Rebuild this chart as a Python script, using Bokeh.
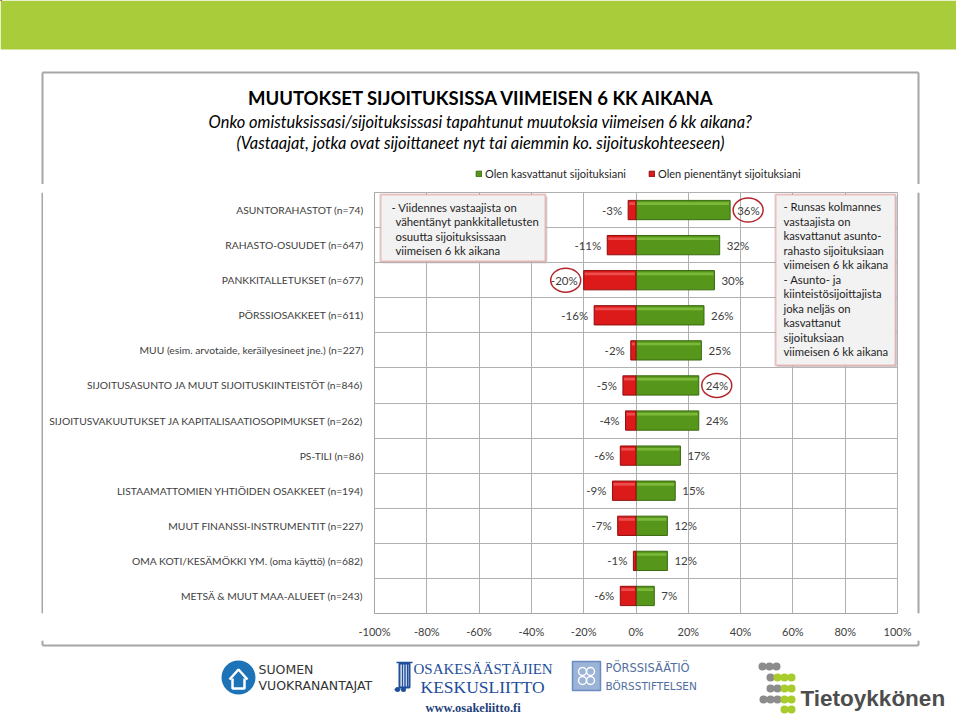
from bokeh.plotting import figure
from bokeh.models import (Label, BoxAnnotation, FixedTicker, NumeralTickFormatter,
                          Legend, LegendItem, Range1d)
from bokeh.layouts import column, row
from bokeh.core.properties import value
from bokeh.embed import file_html
from bokeh.resources import INLINE

# ---------------- data ----------------
categories = [
    "ASUNTORAHASTOT (n=74)",
    "RAHASTO-OSUUDET (n=647)",
    "PANKKITALLETUKSET (n=677)",
    "PÖRSSIOSAKKEET (n=611)",
    "MUU (esim. arvotaide, keräilyesineet jne.) (n=227)",
    "SIJOITUSASUNTO JA MUUT SIJOITUSKIINTEISTÖT (n=846)",
    "SIJOITUSVAKUUTUKSET JA KAPITALISAATIOSOPIMUKSET (n=262)",
    "PS-TILI (n=86)",
    "LISTAAMATTOMIEN YHTIÖIDEN OSAKKEET (n=194)",
    "MUUT FINANSSI-INSTRUMENTIT (n=227)",
    "OMA KOTI/KESÄMÖKKI YM. (oma käyttö) (n=682)",
    "METSÄ & MUUT MAA-ALUEET (n=243)",
]
increased = [36, 32, 30, 26, 25, 24, 24, 17, 15, 12, 12, 7]   # %
decreased = [3, 11, 20, 16, 2, 5, 4, 6, 9, 7, 1, 6]          # %
x_ticks = [-1.0, -0.8, -0.6, -0.4, -0.2, 0.0, 0.2, 0.4, 0.6, 0.8, 1.0]
series_names = ["Olen kasvattanut sijoituksiani", "Olen pienentänyt sijoituksiani"]
highlighted = [0, 2, 5]  # circled labels: 36 %, -20 %, 24 %

title = "MUUTOKSET SIJOITUKSISSA VIIMEISEN 6 KK AIKANA"
subtitle1 = "Onko omistuksissasi/sijoituksissasi tapahtunut muutoksia viimeisen 6 kk aikana?"
subtitle2 = "(Vastaajat, jotka ovat sijoittaneet nyt tai aiemmin ko. sijoituskohteeseen)"
note_left = ["- Viidennes vastaajista on", "vähentänyt pankkitalletusten",
             "osuutta sijoituksissaan", "viimeisen 6 kk aikana"]
note_right = ["- Runsas kolmannes", "vastaajista on", "kasvattanut asunto-",
              "rahasto sijoituksiaan", "viimeisen 6 kk aikana", "- Asunto- ja",
              "kiinteistösijoittajista", "joka neljäs on", "kasvattanut",
              "sijoituksiaan", "viimeisen 6 kk aikana"]

# ---------------- layout constants (page pixels) ----------------
PW = 956                      # page width used
HDR_H = 184                   # header band: 0..184
MID_Y0, MID_Y1 = 184, 640     # chart band
FTR_Y1 = 716                  # footer band: 640..716
LS_W = 43                     # left strip width
RS_X0 = 916                   # right strip start
FL, FR, FT, FB = 374, 897, 192, 615   # plot frame
BL, BR, BT, BB = 42, 918, 72, 645     # chart box border

FONT = "Lato"
TXT = "#404040"
BORDER = "#a6a6a6"
GREEN, GREEN_D, GREEN_L = "#56961b", "#3a6a10", "#86c244"
RED, RED_D, RED_L = "#dc1a1a", "#8e0e0e", "#f25a5a"


def deco_fig(x0, x1, y0, y1):
    """A figure whose frame is its whole canvas, in page pixel coordinates."""
    f = figure(width=x1 - x0, height=y1 - y0, output_backend="svg",
               toolbar_location=None, x_range=Range1d(x0, x1), y_range=Range1d(y1, y0),
               x_axis_location=None, y_axis_location=None, min_border=0)
    f.grid.visible = False
    f.outline_line_color = None
    f.background_fill_color = "white"
    f.border_fill_color = "white"
    return f


# ================= header =================
hdr = deco_fig(0, PW, 0, HDR_H)
hdr.quad(left=[0], right=[PW], top=[0], bottom=[49], fill_color="#a9cc3b", line_color=None)
hdr.segment(x0=[BL, BL, BR], y0=[BT, BT, BT], x1=[BR, BL, BR], y1=[BT, HDR_H, HDR_H],
            line_color=BORDER, line_width=2)
hdr.text(x=[481], y=[97], text=[title], text_align="center", text_baseline="middle",
         text_font=value(FONT), text_font_style="bold", text_font_size="18.5px",
         text_color="#000000")
hdr.text(x=[480, 480], y=[121, 142], text=[subtitle1, subtitle2], text_align="center",
         text_baseline="middle", text_font=value(FONT), text_font_style="italic",
         text_font_size="16.4px", text_color="#000000")
# legend swatches use off-view dummy renderers with the bar styles
lg_g = hdr.hbar(y=[-500], left=[0], right=[1], height=1, fill_color=GREEN, line_color=GREEN_D)
lg_r = hdr.hbar(y=[-500], left=[0], right=[1], height=1, fill_color=RED, line_color=RED_D)
legend = Legend(items=[LegendItem(label=series_names[0], renderers=[lg_g]),
                       LegendItem(label=series_names[1], renderers=[lg_r])],
                orientation="horizontal", location=(475, 4),
                glyph_width=7, glyph_height=7, label_height=9,
                label_text_font=FONT, label_text_font_size="11px",
                label_text_color="#262626", label_standoff=3, spacing=22,
                padding=0, margin=0, border_line_color=None,
                background_fill_alpha=0)
hdr.add_layout(legend)

# ================= side strips =================
lstrip = deco_fig(0, LS_W, MID_Y0, MID_Y1)
lstrip.segment(x0=[BL], y0=[MID_Y0], x1=[BL], y1=[MID_Y1], line_color=BORDER, line_width=2)
rstrip = deco_fig(RS_X0, PW, MID_Y0, MID_Y1)
rstrip.segment(x0=[BR], y0=[MID_Y0], x1=[BR], y1=[MID_Y1], line_color=BORDER, line_width=2)

# ================= main chart =================
n = len(categories)
ypos = [n - i for i in range(n)]
inc = [v / 100 for v in increased]
dec = [-v / 100 for v in decreased]

p = figure(width=RS_X0 - LS_W, height=MID_Y1 - MID_Y0, output_backend="svg",
           toolbar_location=None, x_range=Range1d(-1, 1), y_range=Range1d(0.5, n + 0.5),
           min_border_left=FL - LS_W, min_border_right=RS_X0 - FR,
           min_border_top=FT - MID_Y0, min_border_bottom=MID_Y1 - FB)
p.background_fill_color = "white"
p.border_fill_color = "white"
p.outline_line_color = "#b0b0b0"

p.xgrid.ticker = FixedTicker(ticks=x_ticks)
p.xgrid.grid_line_color = "#b0b0b0"
p.ygrid.ticker = FixedTicker(ticks=[k + 0.5 for k in range(n + 1)])
p.ygrid.grid_line_color = "#b0b0b0"

p.xaxis.ticker = FixedTicker(ticks=x_ticks)
p.xaxis.formatter = NumeralTickFormatter(format="0%")
p.yaxis.ticker = FixedTicker(ticks=ypos)
p.yaxis.major_label_overrides = {y: c for y, c in zip(ypos, categories)}
for ax in (p.xaxis[0], p.yaxis[0]):
    ax.axis_line_color = BORDER
    ax.major_tick_line_color = None
    ax.minor_tick_line_color = None
    ax.major_tick_out = 0
    ax.major_tick_in = 0
    ax.minor_tick_out = 0
    ax.minor_tick_in = 0
    ax.major_label_text_font = FONT
    ax.major_label_text_color = TXT
p.xaxis.major_label_text_font_size = "11px"
p.xaxis.major_label_standoff = 11
p.yaxis.major_label_text_font_size = "10.3px"
p.yaxis.major_label_standoff = 11

BH = 0.55
g = p.hbar(y=ypos, left=0, right=inc, height=BH, fill_color=GREEN,
           line_color=GREEN_D, line_width=1)
r = p.hbar(y=ypos, left=dec, right=0, height=BH, fill_color=RED,
           line_color=RED_D, line_width=1)
p.hbar(y=[y + BH * 0.33 for y in ypos], left=0.004, right=[v - 0.004 for v in inc],
       height=BH * 0.14, fill_color=GREEN_L, fill_alpha=0.8, line_color=None)
p.hbar(y=[y + BH * 0.33 for y in ypos], left=[v + 0.004 for v in dec], right=-0.004,
       height=BH * 0.14, fill_color=RED_L, fill_alpha=0.8, line_color=None)

p.text(x=inc, y=ypos, text=[f"{v}%" for v in increased], x_offset=7,
       text_align="left", text_baseline="middle", text_font=value(FONT),
       text_font_size="11.5px", text_color=TXT)
p.text(x=dec, y=ypos, text=[f"-{v}%" for v in decreased], x_offset=-6,
       text_align="right", text_baseline="middle", text_font=value(FONT),
       text_font_size="11.5px", text_color=TXT)

px2d = 2.0 / (FR - FL)
ex, ey = [], []
for i in highlighted:
    ex.append(dec[i] - 18 * px2d if i == 2 else inc[i] + 18 * px2d)
    ey.append(ypos[i])
p.ellipse(x=ex, y=ey, width=30, height=24, width_units="screen", height_units="screen",
          fill_color=None, line_color="#b3262c", line_width=1.5)


def sx(px):
    return px - FL


def sy(py):
    return FB - py


def note_box(l, t, rr, b):
    p.add_layout(BoxAnnotation(left=sx(l + 2), right=sx(rr + 2), top=sy(t + 2),
                               bottom=sy(b + 2),
                               left_units="screen", right_units="screen",
                               top_units="screen", bottom_units="screen",
                               fill_color="#c8c8c8", fill_alpha=0.6, line_color=None))
    p.add_layout(BoxAnnotation(left=sx(l), right=sx(rr), top=sy(t), bottom=sy(b),
                               left_units="screen", right_units="screen",
                               top_units="screen", bottom_units="screen",
                               fill_color="#f2f2f2", fill_alpha=1.0,
                               line_color="#c0474a", line_width=2))


def note_text(px, py, text):
    p.add_layout(Label(x=sx(px), y=sy(py), x_units="screen", y_units="screen",
                       text=text, text_font=FONT, text_font_size="11.3px",
                       text_color="#1e1e1e", text_align="left", text_baseline="middle"))


note_box(380, 196, 545, 263)
for k, t in enumerate(note_left):
    note_text(391 if k == 0 else 395, 209 + 14.4 * k, t)
note_box(775, 196, 895, 367)
for k, t in enumerate(note_right):
    note_text(783, 208 + 14.5 * k, t)

# ================= footer =================
ftr = deco_fig(0, PW, MID_Y1, FTR_Y1)
ftr.segment(x0=[BL, BL, BR], y0=[BB, MID_Y1, MID_Y1], x1=[BR, BL, BR], y1=[BB, BB, BB],
            line_color=BORDER, line_width=2)
# Suomen Vuokranantajat
ftr.scatter(x=[238], y=[677], size=34, marker="circle", fill_color="#1d73b8", line_color=None)
ftr.line(x=[229, 238, 247], y=[679, 669, 679], line_color="white", line_width=2.5)
ftr.line(x=[232, 232, 244, 244], y=[678, 688, 688, 678], line_color="white", line_width=2.5)
ftr.text(x=[258, 258], y=[669, 685], text=["SUOMEN", "VUOKRANANTAJAT"],
         text_baseline="middle", text_font=value("DejaVu Sans"), text_font_size="12.5px",
         text_color="#333333")
# Osakesäästäjien Keskusliitto
ftr.quad(left=[399], right=[409], top=[663], bottom=[687], fill_color=None,
         line_color="#1f4e9a", line_width=2)
ftr.segment(x0=[396, 402, 404.5, 407, 394], y0=[662, 663, 663, 663, 689],
            x1=[412, 402, 404.5, 407, 400], y1=[662, 687, 687, 687, 689],
            line_color="#1f4e9a", line_width=1.5)
ftr.scatter(x=[397, 403], y=[689, 689], size=5, marker="circle",
            fill_color="#1f4e9a", line_color=None)
ftr.text(x=[413], y=[668], text=["OSAKESÄÄSTÄJIEN"], text_baseline="middle",
         text_font=value("Liberation Serif"), text_font_size="15px", text_color="#1f4e9a")
ftr.text(x=[420], y=[686], text=["KESKUSLIITTO"], text_baseline="middle",
         text_font=value("Liberation Serif"), text_font_size="17.5px", text_color="#1f4e9a")
ftr.text(x=[425], y=[707], text=["www.osakeliitto.fi"], text_baseline="middle",
         text_font=value("Liberation Serif"), text_font_style="bold",
         text_font_size="12.5px", text_color="#1f3f7a")
# Pörssisäätiö
ftr.quad(left=[572], right=[600], top=[661], bottom=[690], fill_color="#9bb3d6",
         line_color="#6a8cc0", line_width=1.5)
ftr.scatter(x=[582, 590, 582, 590], y=[671, 671, 680, 680], size=8, marker="circle",
            fill_color=None, line_color="white", line_width=1.5)
ftr.text(x=[605], y=[667], text=["PÖRSSISÄÄTIÖ"], text_baseline="middle",
         text_font=value("DejaVu Sans"), text_font_size="11.5px", text_color="#506e9e")
ftr.text(x=[605], y=[685], text=["BÖRSSTIFTELSEN"], text_baseline="middle",
         text_font=value("DejaVu Sans"), text_font_size="10.5px", text_color="#506e9e")
# Tietoykkönen
dots_gray_x = [762, 769, 776, 770, 770, 777, 763, 770, 777]
dots_gray_y = [666, 666, 666, 677, 688, 688, 699, 699, 699]
dots_green_x = [777, 784, 791, 784, 791, 784, 791, 784, 791]
dots_green_y = [677, 677, 677, 688, 688, 699, 699, 709, 709]
ftr.scatter(x=dots_gray_x, y=dots_gray_y, size=8, marker="circle",
            fill_color="#8c8c8c", line_color=None)
ftr.scatter(x=dots_green_x, y=dots_green_y, size=8, marker="circle",
            fill_color="#a8cc2c", line_color=None)
ftr.text(x=[800], y=[698], text=["Tietoykkönen"], text_baseline="middle",
         text_font=value("Liberation Sans"), text_font_style="bold",
         text_font_size="22.5px", text_color="#4d4d4d")

layout = column(hdr, row(lstrip, p, rstrip, spacing=0), ftr, spacing=0)
open("out.html", "w").write(file_html(layout, INLINE))
